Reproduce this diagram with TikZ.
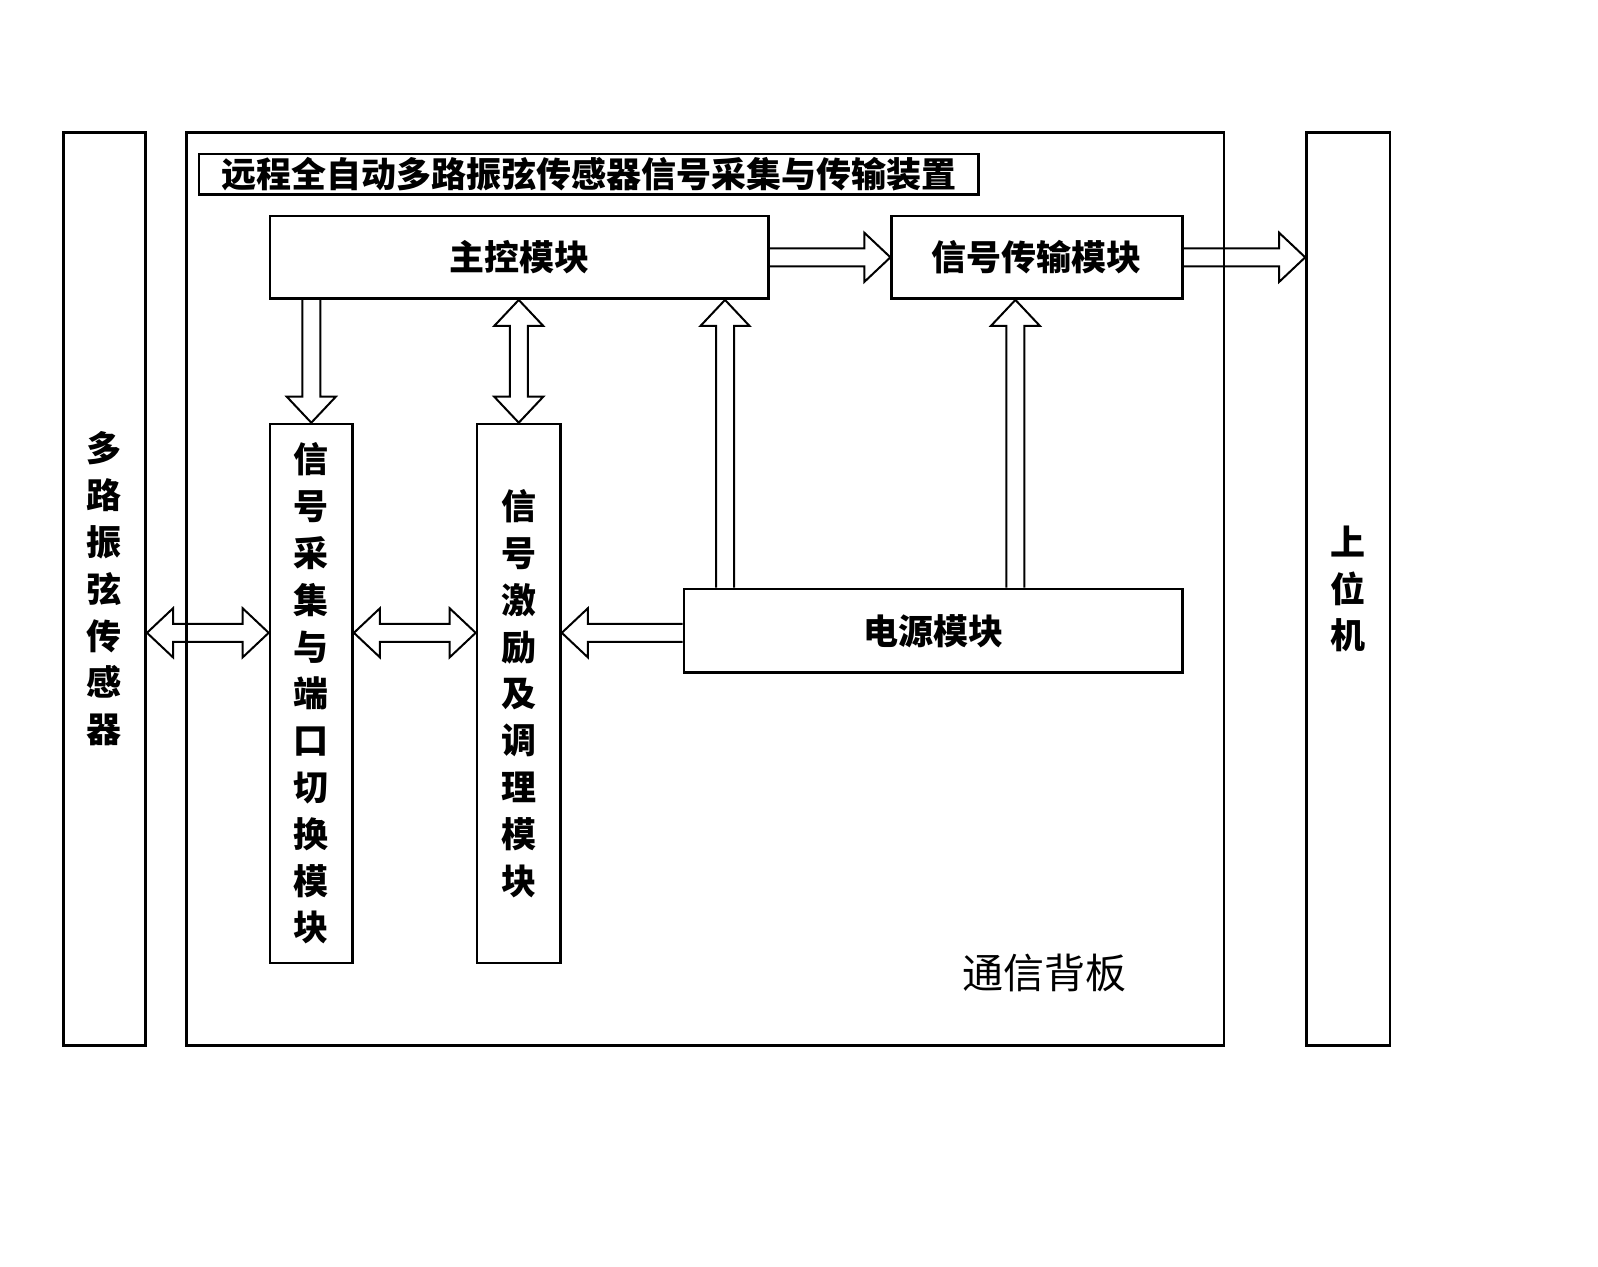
\documentclass[tikz,border=0pt]{standalone}
\usepackage{fontspec}
\newfontfamily\cjk{Noto Sans CJK SC}
\usetikzlibrary{calc}
\newcommand\arrR[2]{\draw[barr] ($(#1)+(0,-9)$) -- ($(#2)+(-26,-9)$) -- ($(#2)+(-26,-24.5)$) -- (#2) -- ($(#2)+(-26,24.5)$) -- ($(#2)+(-26,9)$) -- ($(#1)+(0,9)$);}
\newcommand\arrL[2]{\draw[barr] ($(#1)+(0,-9)$) -- ($(#2)+(26,-9)$) -- ($(#2)+(26,-24.5)$) -- (#2) -- ($(#2)+(26,24.5)$) -- ($(#2)+(26,9)$) -- ($(#1)+(0,9)$);}
\newcommand\arrU[2]{\draw[barr] ($(#1)+(-9,0)$) -- ($(#2)+(-9,26)$) -- ($(#2)+(-24.5,26)$) -- (#2) -- ($(#2)+(24.5,26)$) -- ($(#2)+(9,26)$) -- ($(#1)+(9,0)$);}
\newcommand\arrD[2]{\draw[barr] ($(#1)+(-9,0)$) -- ($(#2)+(-9,-26)$) -- ($(#2)+(-24.5,-26)$) -- (#2) -- ($(#2)+(24.5,-26)$) -- ($(#2)+(9,-26)$) -- ($(#1)+(9,0)$);}
\newcommand\arrLR[2]{\draw[barr] (#1) -- ($(#1)+(26,-24.5)$) -- ($(#1)+(26,-9)$) -- ($(#2)+(-26,-9)$) -- ($(#2)+(-26,-24.5)$) -- (#2) -- ($(#2)+(-26,24.5)$) -- ($(#2)+(-26,9)$) -- ($(#1)+(26,9)$) -- ($(#1)+(26,24.5)$) -- cycle;}
\newcommand\arrUD[2]{\draw[barr] (#1) -- ($(#1)+(-24.5,26)$) -- ($(#1)+(-9,26)$) -- ($(#2)+(-9,-26)$) -- ($(#2)+(-24.5,-26)$) -- (#2) -- ($(#2)+(24.5,-26)$) -- ($(#2)+(9,-26)$) -- ($(#1)+(9,26)$) -- ($(#1)+(24.5,26)$) -- cycle;}
\begin{document}
\begin{tikzpicture}[x=0.5pt,y=-0.5pt,
  box/.style={draw, line width=1.3pt, inner sep=0pt, align=center},
  lab/.style={font=\cjk\bfseries\fontsize{17.5}{23.4}\selectfont},
  barr/.style={draw, line width=1pt, line join=miter}]
\useasboundingbox[fill=white] (0,0) rectangle (1598,1266);
% outer boxes
\node[box, lab, minimum width=41.25pt, minimum height=456.5pt] (sensor) at (104.45,589) {多\\路\\振\\弦\\传\\感\\器};
\node[box, minimum width=518.75pt, minimum height=456.5pt] (plane) at (705.25,589) {};
\node[box, lab, minimum width=41.75pt, minimum height=456.5pt] (upper) at (1348.25,589) {上\\位\\机};
% title
\node[box, lab, line width=1.2pt, minimum width=389.8pt, minimum height=20.35pt] (title) at (588.5,174.25) {远程全自动多路振弦传感器信号采集与传输装置};
% inner modules
\node[box, lab, minimum width=249.2pt, minimum height=41.3pt] (main) at (519.2,257.3) {主控模块};
\node[box, lab, minimum width=145.25pt, minimum height=41.3pt] (trans) at (1036.95,257.3) {信号传输模块};
\node[box, lab, minimum width=41.3pt, minimum height=269.5pt] (acq) at (311.3,693.5) {信\\号\\采\\集\\与\\端\\口\\切\\换\\模\\块};
\node[box, lab, minimum width=41.75pt, minimum height=269.5pt] (exc) at (518.75,693.5) {信\\号\\激\\励\\及\\调\\理\\模\\块};
\node[box, lab, minimum width=249.2pt, minimum height=41.8pt] (power) at (933,630.8) {电源模块};
\node[font=\cjk\fontsize{20.5}{24}\selectfont] (plabel) at (1044.6,973) {通信背板};
% helper coordinates
\coordinate (lvl) at ($(power.west)+(0,2)$);
\coordinate (p1) at ($(power.north west)+(42.5,0)$);
\coordinate (p2) at ($(trans.south west)+(125,0)$);
% arrows
\arrR{main.east}{trans.west}
\arrR{trans.east}{upper.west |- trans.east}
\arrD{acq.north |- main.south}{acq.north}
\arrUD{exc.north |- main.south}{exc.north}
\arrU{p1}{p1 |- main.south}
\arrU{p2 |- power.north}{p2}
\arrLR{sensor.east |- lvl}{acq.west |- lvl}
\arrLR{acq.east |- lvl}{exc.west |- lvl}
\arrL{power.west |- lvl}{exc.east |- lvl}
\end{tikzpicture}
\end{document}
